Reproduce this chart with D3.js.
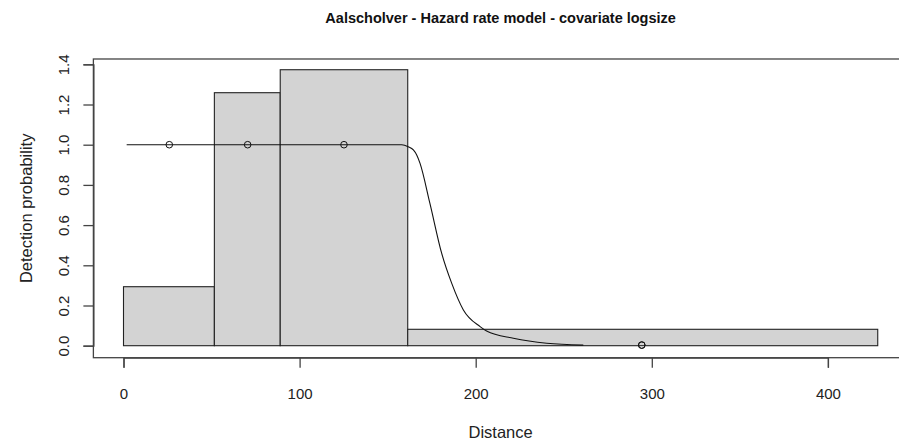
<!DOCTYPE html>
<html>
<head>
<meta charset="utf-8">
<script src="https://cdn.jsdelivr.net/npm/d3@7"></script>
<style>
  html, body { margin: 0; padding: 0; background: #fff; }
  svg { display: block; }
  text { font-family: "Liberation Sans", Arial, sans-serif; }
</style>
</head>
<body>
<div id="chart"></div>
<script>
// ---- data ----
const title = "Aalscholver - Hazard rate model - covariate logsize";
const xLabel = "Distance";
const yLabel = "Detection probability";

// histogram bins (distance breaks) and scaled bar heights
const binBreaks = [0, 51.6, 89.0, 161.4, 428.3];
const binHeights = [0.2935, 1.2587, 1.373, 0.0816];

// fitted detection function (average) sampled along distance
const curveX = [1.8, 158, 161.7, 164.6, 166.5, 168.4, 174.0, 180.7, 186.4, 193.0, 202.5, 206.2, 221.4, 240.3, 261.1];
const curveY = [1.0, 1.0, 0.99, 0.974, 0.949, 0.907, 0.708, 0.459, 0.31, 0.178, 0.095, 0.073, 0.037, 0.012, 0.003];

// observed points
const pointX = [26.0, 70.5, 125.2, 294.3, 294.3];
const pointY = [1.0, 1.0, 1.0, 0.003, 0.003];

// axis ticks
const xTicks = [0, 100, 200, 300, 400];
const yTicks = [0, 0.2, 0.4, 0.6, 0.8, 1.0, 1.2, 1.4];
const xLimits = [-17.1, 445.4];
const yLimits = [-0.0597, 1.4264];

// ---- layout ----
const W = 899, H = 446;
const svg = d3.select("#chart").append("svg").attr("width", W).attr("height", H);

const x = d3.scaleLinear().domain([0, 400]).range([123.5, 123.5 + 400 * 1.761]);
const y = d3.scaleLinear().domain([0, 1.4]).range([345.7, 64.3]);

const boxL = x(xLimits[0]), boxR = x(xLimits[1]);
const boxT = y(yLimits[1]), boxB = y(yLimits[0]);

// bars
const bins = binHeights.map((h, i) => ({ x0: binBreaks[i], x1: binBreaks[i + 1], h }));
svg.append("g").selectAll("rect").data(bins).enter().append("rect")
  .attr("x", d => x(d.x0))
  .attr("y", d => y(d.h))
  .attr("width", d => x(d.x1) - x(d.x0))
  .attr("height", d => y(0) - y(d.h))
  .attr("fill", "#d3d3d3")
  .attr("stroke", "#222")
  .attr("stroke-width", 1.1);

// curve
const curvePts = curveX.map((v, i) => [v, curveY[i]]);
svg.append("path")
  .datum(curvePts)
  .attr("d", d3.line().x(d => x(d[0])).y(d => y(d[1])).curve(d3.curveMonotoneX))
  .attr("fill", "none")
  .attr("stroke", "#111")
  .attr("stroke-width", 1.1);

// points
svg.append("g").selectAll("circle").data(pointX.map((v, i) => [v, pointY[i]])).enter().append("circle")
  .attr("cx", d => x(d[0]))
  .attr("cy", d => y(d[1]))
  .attr("r", 3.3)
  .attr("fill", "none")
  .attr("stroke", "#111")
  .attr("stroke-width", 1);

// plot box
svg.append("rect")
  .attr("x", boxL).attr("y", boxT)
  .attr("width", boxR - boxL).attr("height", boxB - boxT)
  .attr("fill", "none").attr("stroke", "#444").attr("stroke-width", 1.3);

// x axis
const xAxis = d3.axisBottom(x).tickValues(xTicks).tickSize(10).tickPadding(8).tickFormat(d3.format("d"));
const gx = svg.append("g").attr("transform", `translate(0,${boxB})`).call(xAxis);
gx.select(".domain").attr("stroke", "#444").attr("stroke-width", 1.3);
gx.selectAll(".tick line").attr("stroke", "#444").attr("stroke-width", 1.3);
gx.selectAll(".tick text")
  .attr("font-size", 15)
  .attr("fill", "#222")
  .attr("font-family", "Liberation Sans, Arial, sans-serif")
  .attr("dy", null)
  .attr("y", 41.5);

// y axis
const yAxis = d3.axisLeft(y).tickValues(yTicks).tickSize(10).tickFormat(d3.format(".1f"));
const gy = svg.append("g").attr("transform", `translate(${boxL},0)`).call(yAxis);
gy.select(".domain").attr("stroke", "#444").attr("stroke-width", 1.3);
gy.selectAll(".tick line").attr("stroke", "#444").attr("stroke-width", 1.3);
gy.selectAll(".tick text")
  .attr("font-size", 15)
  .attr("fill", "#222")
  .attr("font-family", "Liberation Sans, Arial, sans-serif")
  .attr("x", null).attr("dy", null)
  .attr("text-anchor", "middle")
  .attr("transform", "translate(-24,0) rotate(-90)")
  .attr("y", 0);

// title
svg.append("text")
  .attr("x", (boxL + boxR) / 2).attr("y", 22.5)
  .attr("text-anchor", "middle")
  .attr("font-size", 14.5).attr("font-weight", "bold").attr("fill", "#111")
  .text(title);

// axis labels
svg.append("text")
  .attr("x", (boxL + boxR) / 2).attr("y", 438)
  .attr("text-anchor", "middle")
  .attr("font-size", 16.5).attr("fill", "#222")
  .text(xLabel);

svg.append("text")
  .attr("transform", `translate(32,${(boxT + boxB) / 2}) rotate(-90)`)
  .attr("text-anchor", "middle")
  .attr("font-size", 16.5).attr("fill", "#222")
  .text(yLabel);
</script>
</body>
</html>
